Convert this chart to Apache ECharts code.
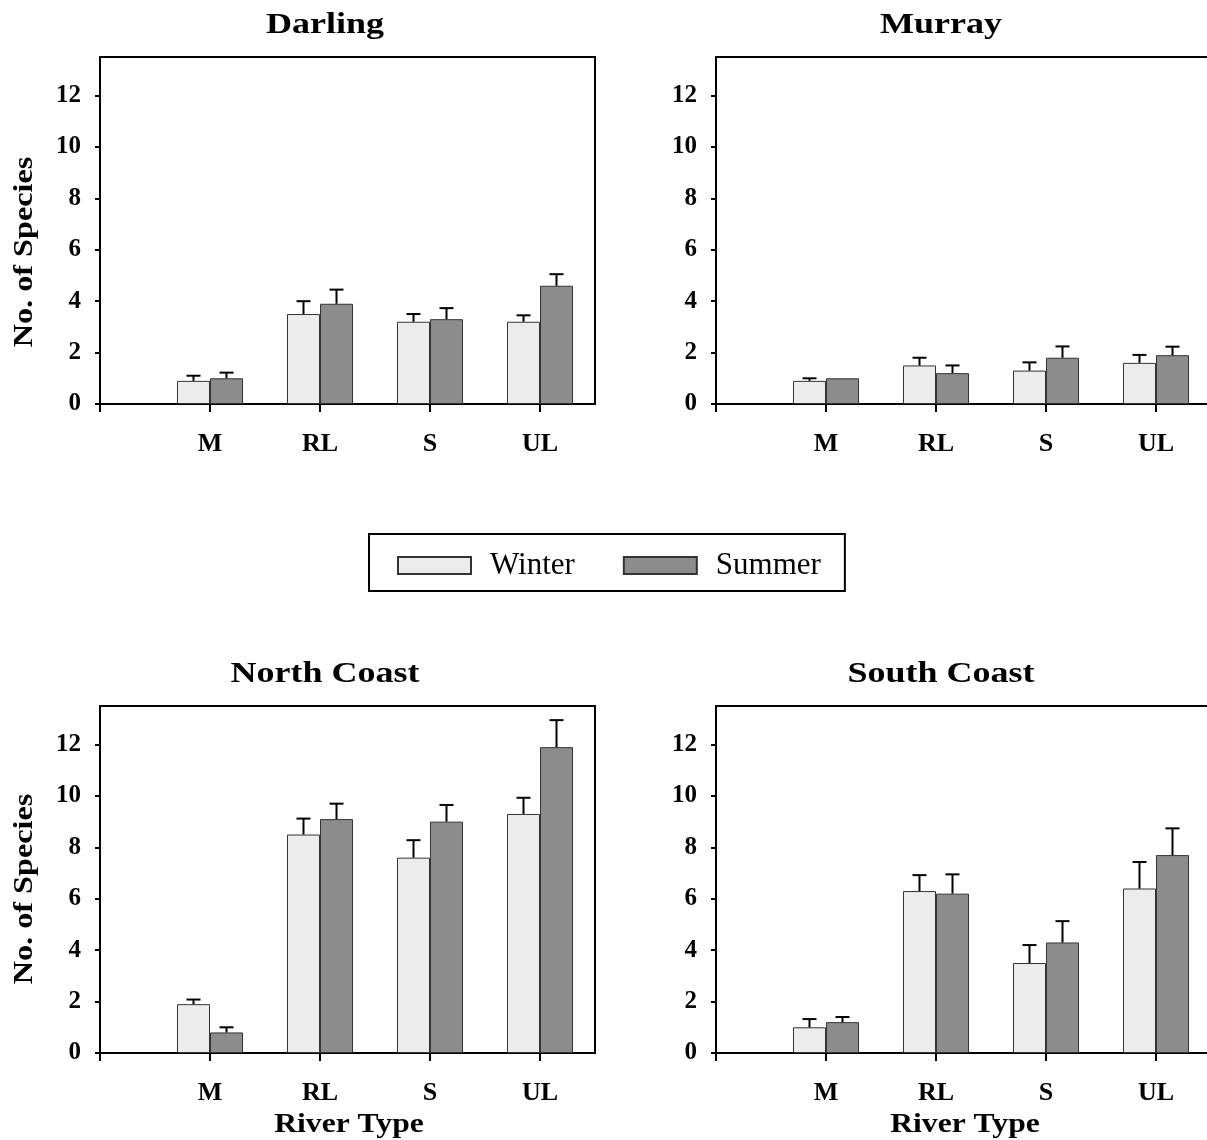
<!DOCTYPE html>
<html>
<head>
<meta charset="utf-8">
<script src="https://cdn.jsdelivr.net/npm/echarts@6/dist/echarts.min.js"></script>
<style>
html,body{margin:0;padding:0;background:#fff;}
#chart{width:1207px;height:1140px;}
</style>
</head>
<body>
<div id="chart"></div>
<script>
// ---- data ----
const categories = ['M', 'RL', 'S', 'UL'];
const categoryPositions = [1, 2, 3, 4];
const yTicks = [0, 2, 4, 6, 8, 10, 12];
const xTicks = [0, 1, 2, 3, 4];
const seriesNames = ['Winter', 'Summer'];
const panelTitles = ['Darling', 'Murray', 'North Coast', 'South Coast'];

const darlingWinter = [0.9, 3.5, 3.2, 3.2];
const darlingWinterSE = [0.2, 0.5, 0.3, 0.25];
const darlingSummer = [1.0, 3.9, 3.3, 4.6];
const darlingSummerSE = [0.22, 0.55, 0.43, 0.45];

const murrayWinter = [0.9, 1.5, 1.3, 1.6];
const murrayWinterSE = [0.1, 0.3, 0.32, 0.31];
const murraySummer = [1.0, 1.2, 1.8, 1.9];
const murraySummerSE = [0, 0.3, 0.44, 0.33];

const northWinter = [1.9, 8.5, 7.6, 9.3];
const northWinterSE = [0.18, 0.62, 0.68, 0.63];
const northSummer = [0.8, 9.1, 9.0, 11.9];
const northSummerSE = [0.2, 0.6, 0.65, 1.05];

const southWinter = [1.0, 6.3, 3.5, 6.4];
const southWinterSE = [0.32, 0.62, 0.7, 1.03];
const southSummer = [1.2, 6.2, 4.3, 7.7];
const southSummerSE = [0.2, 0.75, 0.83, 1.04];

// ---- layout / style ----
const FONT = '"Liberation Serif", "Times New Roman", serif';
const BAR_W = 33;
const panels = [
  { title: panelTitles[0], w: darlingWinter, wse: darlingWinterSE, s: darlingSummer, sse: darlingSummerSE, left: 100, top: 57 },
  { title: panelTitles[1], w: murrayWinter, wse: murrayWinterSE, s: murraySummer, sse: murraySummerSE, left: 716, top: 57 },
  { title: panelTitles[2], w: northWinter, wse: northWinterSE, s: northSummer, sse: northSummerSE, left: 100, top: 706 },
  { title: panelTitles[3], w: southWinter, wse: southWinterSE, s: southSummer, sse: southSummerSE, left: 716, top: 706 }
];
const titlePos = [[325, 25], [941, 25], [325, 674], [941, 674]];
const colors = { Winter: '#ececec', Summer: '#8c8c8c' };

const grids = [], xAxes = [], yAxes = [], series = [];

panels.forEach((p, i) => {
  grids.push({
    left: p.left, top: p.top, width: 495, height: 347,
    outerBoundsMode: 'none', containLabel: false,
    show: true, borderColor: '#000', borderWidth: 2, backgroundColor: 'transparent'
  });
  xAxes.push({
    type: 'value', gridIndex: i, min: 0, max: 4.5, interval: 1,
    axisLine: { show: true, onZero: false, lineStyle: { color: '#000', width: 2 } },
    axisTick: { show: true, length: 8, inside: false, customValues: xTicks, lineStyle: { color: '#000', width: 2 } },
    axisLabel: {
      customValues: categoryPositions, margin: 27,
      formatter: v => categories[categoryPositions.indexOf(v)] || '',
      fontFamily: FONT, fontWeight: 'bold', fontSize: 26, color: '#000'
    },
    splitLine: { show: false }
  });
  yAxes.push({
    type: 'value', gridIndex: i, min: 0, max: 13.5, interval: 2,
    axisLine: { show: true, lineStyle: { color: '#000', width: 2 } },
    axisTick: { show: true, length: 5, customValues: yTicks, lineStyle: { color: '#000', width: 2 } },
    axisLabel: { customValues: yTicks, margin: 19, fontFamily: FONT, fontWeight: 'bold', fontSize: 25, color: '#000' },
    splitLine: { show: false }
  });
  const groups = [
    { name: seriesNames[0], vals: p.w, se: p.wse, side: -1 },
    { name: seriesNames[1], vals: p.s, se: p.sse, side: 1 }
  ];
  groups.forEach(g => {
    series.push({
      type: 'bar', name: g.name, xAxisIndex: i, yAxisIndex: i,
      data: categoryPositions.map((x, j) => [x, g.vals[j]]),
      barWidth: BAR_W, barGap: '0%',
      itemStyle: { color: colors[g.name], borderColor: '#333', borderWidth: 1 },
      emphasis: { disabled: true }, z: 2
    });
  });
  groups.forEach(g => {
    series.push({
      type: 'custom', xAxisIndex: i, yAxisIndex: i, z: 3,
      data: categoryPositions.map((x, j) => [x, g.vals[j], g.se[j], g.side]),
      encode: { x: 0, y: 1 },
      renderItem: (params, api) => {
        const x = api.value(0), m = api.value(1), se = api.value(2), side = api.value(3);
        if (!se) return null;
        const p0 = api.coord([x, m]);
        const p1 = api.coord([x, m + se]);
        const cx = p0[0] + side * BAR_W / 2;
        return {
          type: 'group',
          children: [
            { type: 'line', shape: { x1: cx, y1: p0[1], x2: cx, y2: p1[1] }, style: { stroke: '#000', lineWidth: 2 } },
            { type: 'line', shape: { x1: cx - 7, y1: p1[1], x2: cx + 7, y2: p1[1] }, style: { stroke: '#000', lineWidth: 2 } }
          ]
        };
      }
    });
  });
});

function txt(text, x, y, size, scaleX, rotation) {
  return {
    type: 'text', x: x, y: y, scaleX: scaleX, rotation: rotation || 0, silent: true,
    style: { text: text, x: 0, y: 0, align: 'center', verticalAlign: 'middle', fontFamily: FONT, fontWeight: 'bold', fontSize: size, fill: '#000' }
  };
}

const graphics = [];
panels.forEach((p, i) => graphics.push(txt(p.title, titlePos[i][0], titlePos[i][1], 30, 1.2)));
graphics.push(txt('No. of Species', 25, 252, 28, 1.15, Math.PI / 2));
graphics.push(txt('No. of Species', 25, 889, 28, 1.15, Math.PI / 2));
graphics.push(txt('River Type', 349, 1125, 27, 1.17));
graphics.push(txt('River Type', 965, 1125, 27, 1.17));

const chart = echarts.init(document.getElementById('chart'), null, { renderer: 'canvas' });
chart.setOption({
  animation: false,
  backgroundColor: '#fff',
  grid: grids,
  xAxis: xAxes,
  yAxis: yAxes,
  series: series,
  legend: {
    data: seriesNames, left: 369, top: 534, orient: 'horizontal',
    itemWidth: 73, itemHeight: 17, itemGap: 48, icon: 'rect',
    padding: [16, 24, 10, 28], borderColor: '#000', borderWidth: 2,
    selectedMode: false,
    textStyle: { fontFamily: FONT, fontSize: 31, color: '#000', padding: [0, 0, 0, 14] }
  },
  graphic: graphics
});
</script>
</body>
</html>
